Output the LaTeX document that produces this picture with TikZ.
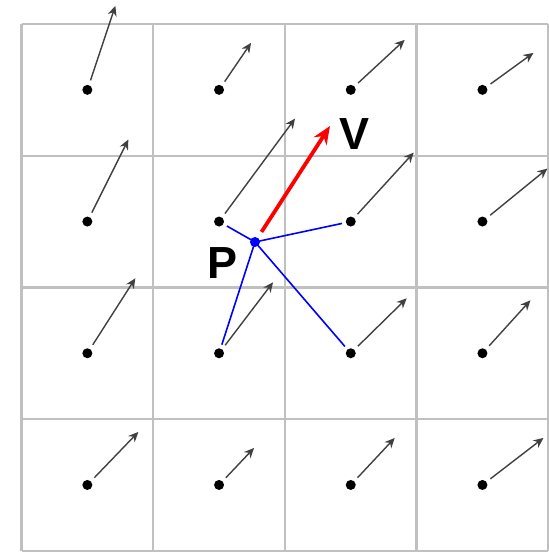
\documentclass[tikz,border=0pt]{standalone}
\usepackage{fontspec}
\setmainfont{Liberation Sans}
\usetikzlibrary{arrows.meta}
\definecolor{gridgray}{RGB}{192,192,192}
\definecolor{vecgray}{RGB}{64,64,64}
\begin{document}
\begin{tikzpicture}[x=1pt,y=-1pt,
  gridline/.style={draw=gridgray,line width=2.4pt},
  dot/.style={circle,fill=black,inner sep=0pt,minimum size=10pt},
  pdot/.style={circle,fill=blue,inner sep=0pt,minimum size=10pt},
  vec/.style={draw=vecgray,line width=1.4pt,-{Stealth[length=10pt,width=9pt]},shorten <=10pt},
  redvec/.style={draw=red,line width=3.8pt,-{Stealth[length=18pt,width=15pt]},shorten <=12pt},
  blueline/.style={draw=blue,line width=1.6pt,shorten >=9pt},
  lbl/.style={font=\fontsize{45}{45}\selectfont\bfseries,text=black,inner sep=0pt}
]
\useasboundingbox (0,0) rectangle (549,552);
% grid
\foreach \k in {0,...,4} {
  \draw[gridline] ({21.5+131.7*\k},24) -- ({21.5+131.7*\k},550.8);
  \draw[gridline] (21.5,{24+131.7*\k}) -- (548.3,{24+131.7*\k});
}
% sample points and vectors
\foreach \c/\r/\dx/\dy in {
  1/1/28/-84, 2/1/32/-47, 3/1/54/-50, 4/1/51/-37,
  1/2/41/-82, 2/2/76/-103, 3/2/63/-69, 4/2/65/-53,
  1/3/48/-75, 2/3/54/-71, 3/3/56/-55, 4/3/48/-53,
  1/4/51/-53, 2/4/35/-37, 3/4/44/-47, 4/4/61/-47} {
  \node[dot] (d\c\r) at ({87.35+131.7*(\c-1)},{89.85+131.7*(\r-1)}) {};
  \coordinate (t\c\r) at ([shift={(\dx,\dy)}]d\c\r.center);
  \draw[vec] (d\c\r.center) -- (t\c\r);
}
% point P
\node[pdot] (P) at (255,242) {};
\foreach \n in {d22,d32,d23,d33} {
  \draw[blueline] (P.center) -- (\n.center);
}
\coordinate (vtip) at (330,126);
\draw[redvec] (P.center) -- (vtip);
\node[lbl] (Plbl) at (223,263.5) {P};
\node[lbl] (Vlbl) at (355,134.5) {V};
\end{tikzpicture}
\end{document}
